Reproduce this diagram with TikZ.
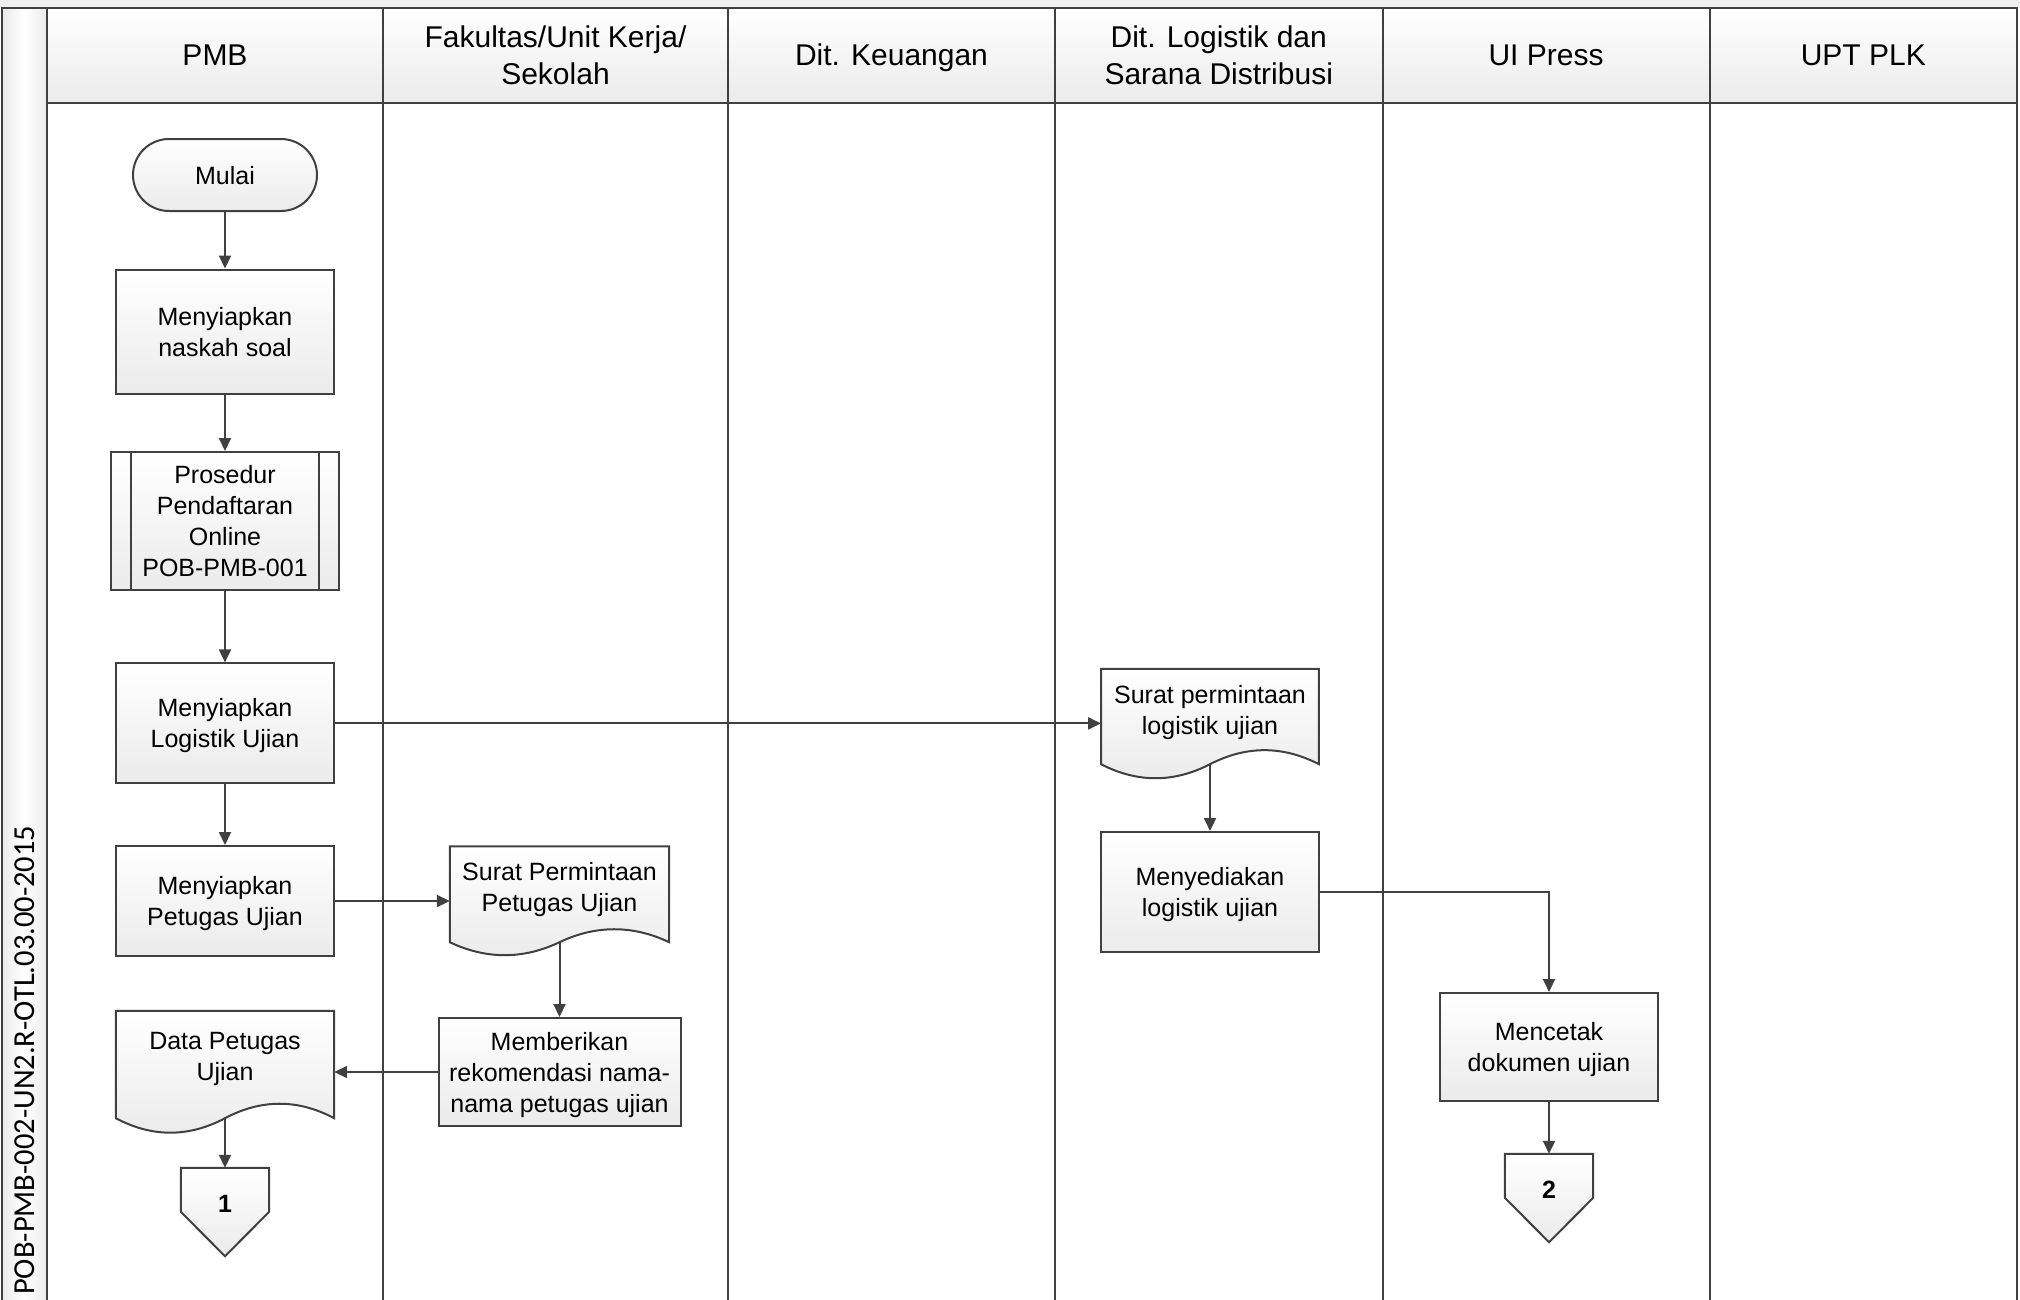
\documentclass[tikz,border=0pt]{standalone}
\usepackage{fontspec}
\setmainfont{Liberation Sans}
\newfontfamily\carl{Carlito}
\usetikzlibrary{arrows.meta,calc,backgrounds}
\definecolor{lc}{HTML}{404040}
\definecolor{fb}{HTML}{EBEBEB}
\definecolor{band}{HTML}{EFEFEF}
\newcommand\docshape[4]{%
  \path[docline] (#1.north west) -- (#1.north east) -- ($(#1.south east)+(0,#3)$)
    .. controls +(-#2/6,-#4) and +(#2/6,-#4) .. ($(#1.south)+(0,#3)$)
    .. controls +(-#2/6,#4) and +(#2/6,#4) .. ($(#1.south west)+(0,#3)$) -- cycle;}
\begin{document}
\begin{tikzpicture}[x=1pt,y=-1pt,
  lane/.style={draw=lc,line width=2pt},
  box/.style={draw=lc,line width=2pt,top color=white,bottom color=fb,inner sep=0pt,align=center,text depth=0pt,font=\fontsize{25}{31}\selectfont},
  docbox/.style={inner sep=0pt,align=center,text depth=0pt,font=\fontsize{25}{31}\selectfont},
  docline/.style={draw=lc,line width=2pt,top color=white,bottom color=fb},
  offpage/.style={inner sep=0pt,text height=44pt,text depth=44pt,minimum width=88pt,font=\bfseries\fontsize{25}{30}\selectfont},
  arr/.style={draw=lc,line width=2pt,-{Triangle[length=13pt,width=12pt]}},
  head/.style={align=center,text depth=0pt,font=\fontsize{30}{37}\selectfont},
]
\useasboundingbox (0,0) rectangle (2020,1299);
% pool frame
\fill[band] (0,0) rectangle (2020,8);
\shade[top color=white,bottom color=fb] (47,8) rectangle (2017,103);
\shade[left color=fb,right color=fb,middle color=white] (2,8) rectangle (47,1310);
\draw[lane] (2,1310) -- (2,8) -- (2017,8) -- (2017,1310);
\draw[lane] (47,8) -- (47,1310);
\draw[lane] (47,103) -- (2017,103);
\foreach \x in {383,728,1055,1382.5,1709.5} \draw[lane] (\x,8) -- (\x,1310);
\node[rotate=90,anchor=west,inner sep=0pt,font=\carl\fontsize{30.5}{36}\selectfont] (code) at (25,1295) {POB-PMB-002-UN2.R-OTL.03.00-2015};
% headers
\node[head] (hPMB) at (215,55) {PMB};
\node[head] (hFak) at (555.5,55) {Fakultas/Unit Kerja/\\Sekolah};
\node[head] (hKeu) at (891.5,55) {Dit. Keuangan};
\node[head] (hLog) at (1218.75,55) {Dit. Logistik dan\\Sarana Distribusi};
\node[head] (hUI) at (1546,55) {UI Press};
\node[head] (hUPT) at (1863.25,55) {UPT PLK};
% PMB lane
\node[box,rounded corners=36pt,minimum width=184pt,minimum height=72pt] (mulai) at (225,175) {Mulai};
\node[box,minimum width=218pt,minimum height=124pt] (naskah) at (225,331.5) {Menyiapkan\\naskah soal};
\node[box,minimum width=228pt,minimum height=138pt] (pros) at (225,521) {Prosedur\\Pendaftaran\\Online\\POB-PMB-001};
\draw[lane] ([xshift=20.6pt]pros.north west) -- ([xshift=20.6pt]pros.south west);
\draw[lane] ([xshift=-20.6pt]pros.north east) -- ([xshift=-20.6pt]pros.south east);
\node[box,minimum width=218pt,minimum height=120pt] (logi) at (225,723.4) {Menyiapkan\\Logistik Ujian};
\node[box,minimum width=218pt,minimum height=110pt] (petu) at (225,901) {Menyiapkan\\Petugas Ujian};
\node[docbox,minimum width=218pt,minimum height=90pt] (data) at (225,1056) {Data Petugas\\Ujian};
\node[offpage] (c1) at (225,1212) {1};
% Fakultas lane
\node[docbox,minimum width=219pt,minimum height=80pt] (surP) at (559.5,886.5) {Surat Permintaan\\Petugas Ujian};
\node[box,minimum width=242pt,minimum height=108pt] (memb) at (559.5,1072) {Memberikan\\rekomendasi nama-\\nama petugas ujian};
% Logistik lane
\node[docbox,minimum width=217.5pt,minimum height=82pt] (surL) at (1210,710) {Surat permintaan\\logistik ujian};
\node[box,minimum width=217.5pt,minimum height=120pt] (meny) at (1210,892) {Menyediakan\\logistik ujian};
% UI Press lane
\node[box,minimum width=218pt,minimum height=108pt] (menc) at (1549,1047) {Mencetak\\dokumen ujian};
\node[offpage] (c2) at (1549,1198) {2};
% shapes behind text
\begin{scope}[on background layer]
\docshape{data}{218}{17}{19.3}
\docshape{surP}{219}{15.5}{17.3}
\docshape{surL}{217.5}{13}{18.7}
\path[docline] (c1.north west) -- (c1.north east) -- ($(c1.north east)+(0,44)$) -- (c1.south) -- ($(c1.north west)+(0,44)$) -- cycle;
\path[docline] (c2.north west) -- (c2.north east) -- ($(c2.north east)+(0,44)$) -- (c2.south) -- ($(c2.north west)+(0,44)$) -- cycle;
\end{scope}
\coordinate (datab) at ($(data.south)+(0,17)$);
\coordinate (surPb) at ($(surP.south)+(0,15.5)$);
\coordinate (surLb) at ($(surL.south)+(0,13)$);
% connectors
\draw[arr] (mulai) -- (naskah);
\draw[arr] (naskah) -- (pros);
\draw[arr] (pros) -- (logi);
\draw[arr] (logi) -- (petu);
\draw[arr] (logi.east) -- (logi.east -| surL.west);
\draw[arr] (petu.east) -- (petu.east -| surP.west);
\draw[arr] (surPb) -- (memb.north);
\draw[arr] (memb.west) -- (memb.west -| data.east);
\draw[arr] (datab) -- (c1.north);
\draw[arr] (surLb) -- (meny.north);
\draw[arr] (meny.east) -- (meny.east -| menc.north) -- (menc.north);
\draw[arr] (menc.south) -- (c2.north);
\end{tikzpicture}
\end{document}
